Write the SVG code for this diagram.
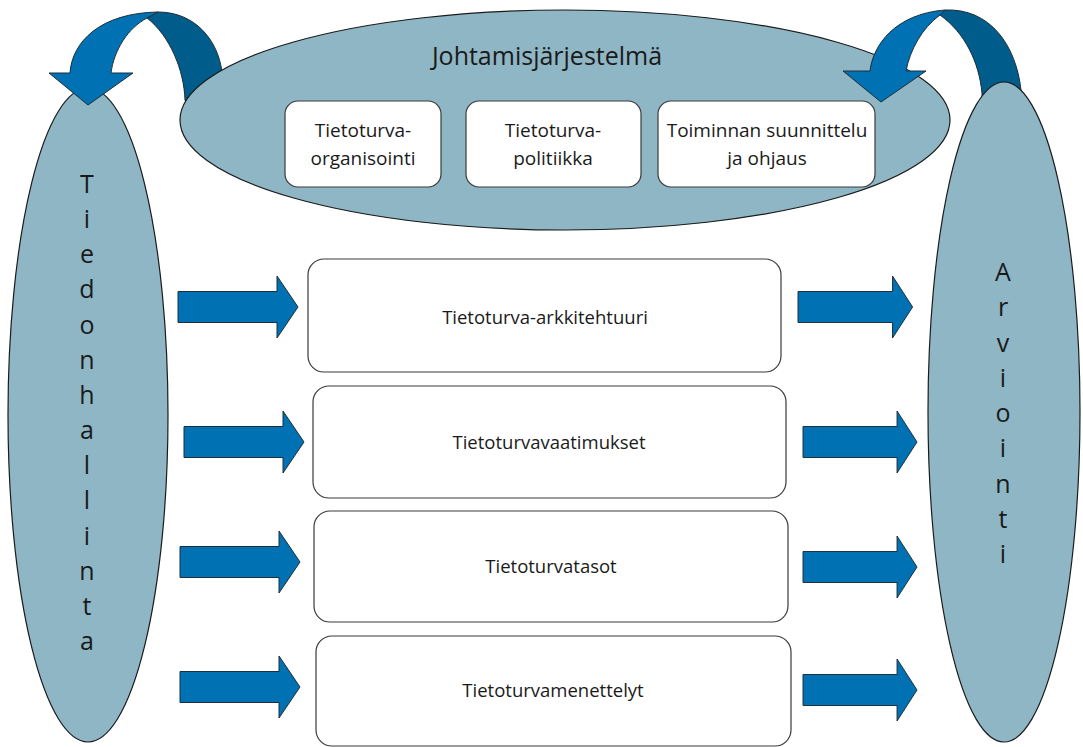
<svg xmlns="http://www.w3.org/2000/svg" width="1083" height="747" viewBox="0 0 1083 747">
<style>
.ell{fill:#8EB6C5;stroke:#1b1b1b;stroke-width:1.2}
.box{fill:#ffffff;stroke:#3a3a3a;stroke-width:1.2}
.arr{fill:#0071B2;stroke:#1d2e3a;stroke-width:1}
.dark{fill:#005C8A;stroke:#1d2e3a;stroke-width:1}
text{font-family:"Open Sans","Noto Sans","DejaVu Sans",sans-serif;fill:#1a1a1a;text-anchor:middle}
.t1{font-size:25px}
.t2{font-size:19px}
.t3{font-size:18.5px}
.tv{font-size:25px}
</style>
<defs>
<path id="rarrow" d="M0,-15.5 L99,-15.5 L99,-31 L120,0 L99,31 L99,15.5 L0,15.5 Z"/>
</defs>

<!-- back parts of the curved arrows -->
<g id="curve-left-back">
<path class="dark" d="M158,12 C195,12 218,40 222,72 L225,115 L190,115 L185,100 C184,70 170,36 147,18 Z"/>
</g>
<g id="curve-right-back">
<path class="dark" d="M945,10 C990,8 1016,45 1021,90 L1021,115 L982,115 L982,93 C979,62 965,33 940,15 Z"/>
</g>

<g id="johtamisjarjestelma">
<ellipse class="ell" cx="565" cy="120" rx="385" ry="110"/>
<text class="t1" x="547" y="65">Johtamisjärjestelmä</text>
</g>

<g id="tiedonhallinta">
<ellipse class="ell" cx="88" cy="415" rx="80" ry="327"/>
<text class="tv" x="87" y="193">T</text>
<text class="tv" x="87" y="228">i</text>
<text class="tv" x="87" y="263">e</text>
<text class="tv" x="87" y="298">d</text>
<text class="tv" x="87" y="334">o</text>
<text class="tv" x="87" y="369">n</text>
<text class="tv" x="87" y="404">h</text>
<text class="tv" x="87" y="439">a</text>
<text class="tv" x="87" y="474">l</text>
<text class="tv" x="87" y="509">l</text>
<text class="tv" x="87" y="545">i</text>
<text class="tv" x="87" y="580">n</text>
<text class="tv" x="87" y="615">t</text>
<text class="tv" x="87" y="650">a</text>
</g>

<g id="arviointi">
<ellipse class="ell" cx="1004" cy="412" rx="76" ry="330"/>
<text class="tv" x="1003" y="281">A</text>
<text class="tv" x="1003" y="316">r</text>
<text class="tv" x="1003" y="352">v</text>
<text class="tv" x="1003" y="387">i</text>
<text class="tv" x="1003" y="422">o</text>
<text class="tv" x="1003" y="457">i</text>
<text class="tv" x="1003" y="493">n</text>
<text class="tv" x="1003" y="528">t</text>
<text class="tv" x="1003" y="563">i</text>
</g>

<!-- front parts of the curved arrows -->
<g id="curve-left-front">
<path class="arr" d="M49,73 L70,73 C72,42 100,13 158,12 L147,18 C128,28 114,50 111,73 L133,73 L88,105 Z"/>
</g>
<g id="curve-right-front">
<path class="arr" d="M843,71 L870,71 C873,45 895,14 945,10 L940,15 C922,28 910,50 906,71 L926,71 L881,102 Z"/>
</g>

<g id="organisointi">
<rect class="box" x="285" y="101" width="156" height="86" rx="13"/>
<text class="t2" x="363" y="137">Tietoturva-</text>
<text class="t2" x="363" y="165">organisointi</text>
</g>
<g id="politiikka">
<rect class="box" x="466" y="101" width="175" height="86" rx="13"/>
<text class="t2" x="553" y="137">Tietoturva-</text>
<text class="t2" x="553" y="165">politiikka</text>
</g>
<g id="suunnittelu">
<rect class="box" x="658" y="101" width="217" height="86" rx="13"/>
<text class="t2" x="767" y="137">Toiminnan suunnittelu</text>
<text class="t2" x="767" y="165">ja ohjaus</text>
</g>

<g id="arkkitehtuuri">
<rect class="box" x="308" y="259" width="473" height="113" rx="16"/>
<text class="t3" x="545" y="324">Tietoturva-arkkitehtuuri</text>
</g>
<g id="vaatimukset">
<rect class="box" x="313" y="386" width="473" height="112" rx="16"/>
<text class="t3" x="549" y="449">Tietoturvavaatimukset</text>
</g>
<g id="tasot">
<rect class="box" x="314" y="511" width="474" height="111" rx="16"/>
<text class="t3" x="551" y="573">Tietoturvatasot</text>
</g>
<g id="menettelyt">
<rect class="box" x="316" y="636" width="475" height="110" rx="16"/>
<text class="t3" x="553" y="697">Tietoturvamenettelyt</text>
</g>

<g id="connectors">
<use href="#rarrow" class="arr" transform="translate(178,307)"/>
<use href="#rarrow" class="arr" transform="translate(184,442)"/>
<use href="#rarrow" class="arr" transform="translate(180,562)"/>
<use href="#rarrow" class="arr" transform="translate(180,687)"/>
<use href="#rarrow" class="arr" transform="translate(798,307) scale(0.955,1)"/>
<use href="#rarrow" class="arr" transform="translate(803,442) scale(0.95,1)"/>
<use href="#rarrow" class="arr" transform="translate(803,567) scale(0.95,1)"/>
<use href="#rarrow" class="arr" transform="translate(803,690) scale(0.95,1)"/>
</g>
</svg>
